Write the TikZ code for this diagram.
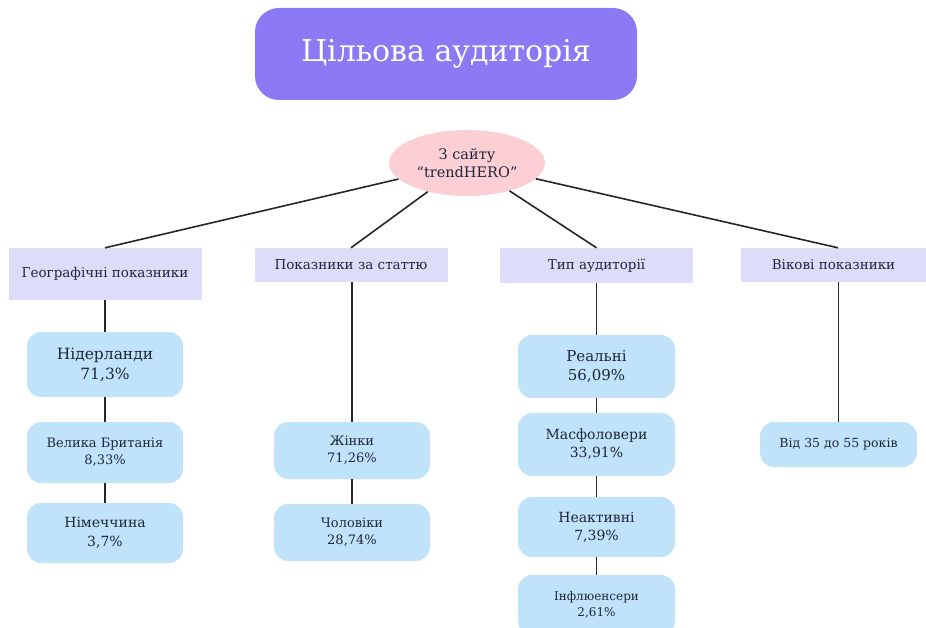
\documentclass[tikz,border=0pt]{standalone}
\usepackage{fontspec}
\setmainfont{DejaVu Serif}
\usepackage{tikz}
\usetikzlibrary{shapes.geometric}

\definecolor{titlefill}{RGB}{140,122,245}
\definecolor{srcfill}{RGB}{251,207,211}
\definecolor{catfill}{RGB}{221,221,250}
\definecolor{itemfill}{RGB}{192,227,250}
\definecolor{inkcol}{RGB}{30,38,58}

\tikzset{
  title/.style={rectangle, rounded corners=24pt, fill=titlefill, text=white,
    minimum width=382pt, minimum height=92pt, font=\fontsize{30}{34}\selectfont},
  source/.style={ellipse, fill=srcfill, text=inkcol, minimum width=156pt,
    minimum height=66pt, inner sep=0pt, align=center, font=\fontsize{14.5}{18}\selectfont},
  category/.style={rectangle, fill=catfill, text=inkcol, minimum width=193pt,
    font=\fontsize{13.5}{16}\selectfont},
  item/.style={rectangle, rounded corners=14pt, fill=itemfill, text=inkcol,
    minimum width=156pt, align=center, font=\fontsize{13}{17}\selectfont},
  link/.style={draw=black!85, line width=1.6pt}
}

\begin{document}
\begin{tikzpicture}[x=1pt, y=-1pt]
            \useasboundingbox (0,0) rectangle (926,628);
            % Заголовок і джерело
            \node[title] (title) at (446,54) {Цільова аудиторія};
            \node[source] (src) at (467,163) {З сайту\\“trendHERO”};

            % Категорії
            \node[category, minimum height=52pt] (geo) at (105,274) {Географічні показники};
            \node[category, minimum height=34pt] (gender) at (351,265) {Показники за статтю};
            \node[category, minimum height=35pt] (type) at (596.5,265.5) {Тип аудиторії};
            \node[category, minimum height=34pt, minimum width=185pt] (age) at (833.5,265) {Вікові показники};

            % Географія
            \node[item, minimum height=65pt, font=\fontsize{15.5}{20}\selectfont] (nl) at (105,364.5) {Нідерланди\\71,3\%};
            \node[item, minimum height=61pt] (gb) at (105,452.5) {Велика Британія\\8,33\%};
            \node[item, minimum height=60pt, font=\fontsize{14}{19}\selectfont] (de) at (105,533) {Німеччина\\3,7\%};

            % Стать
            \node[item, minimum height=57pt] (female) at (352,450.5) {Жінки\\71,26\%};
            \node[item, minimum height=57pt] (male) at (352,532.5) {Чоловіки\\28,74\%};

            % Тип аудиторії
            \node[item, minimum height=63pt, minimum width=157pt, font=\fontsize{15}{19}\selectfont] (real) at (596.5,366.5) {Реальні\\56,09\%};
            \node[item, minimum height=63pt, minimum width=157pt, font=\fontsize{14}{18}\selectfont] (mass) at (596.5,444.5) {Масфоловери\\33,91\%};
            \node[item, minimum height=60pt, minimum width=157pt, font=\fontsize{14}{18}\selectfont] (inact) at (596.5,527) {Неактивні\\7,39\%};
            \node[item, minimum height=60pt, minimum width=157pt, font=\fontsize{12}{16}\selectfont] (infl) at (596.5,605) {Інфлюенсери\\2,61\%};

            % Вік
            \node[item, minimum height=45pt, minimum width=157pt, font=\fontsize{12.5}{15}\selectfont] (agerange) at (838.5,444.5) {Від 35 до 55 років};

            % З'єднання
            \draw[link] (src) -- (geo.north);
            \draw[link] (src) -- (gender.north);
            \draw[link] (src) -- (type.north);
            \draw[link] (src) -- ([xshift=4.5pt]age.north);
            \draw[link] (geo) -- (nl) -- (gb) -- (de);
            \draw[link] ([xshift=1pt]gender.south) -- (female) -- (male);
            \draw[link] (type) -- (real) -- (mass) -- (inact) -- (infl);
            \draw[link] ([xshift=5pt]age.south) -- (agerange);
        \end{tikzpicture}
\end{document}
